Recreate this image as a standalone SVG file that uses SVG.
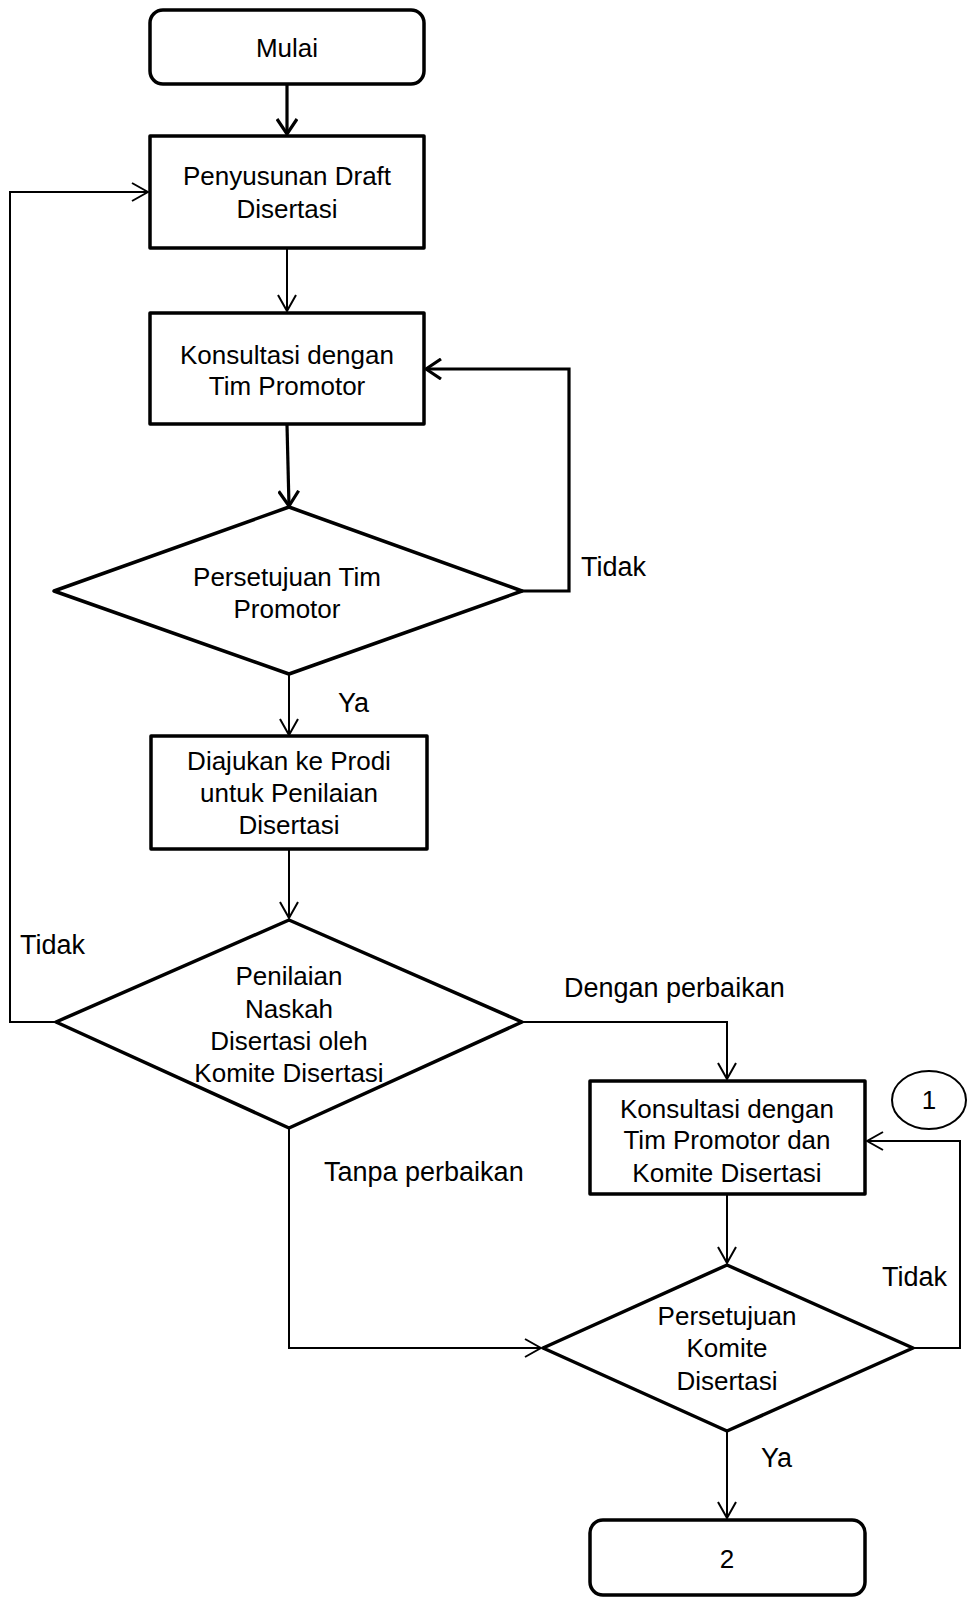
<svg xmlns="http://www.w3.org/2000/svg" width="970" height="1598" viewBox="0 0 970 1598">
<defs>
<style>
.n{fill:#fff;stroke:#000;stroke-width:3.5;stroke-linejoin:round}
.t{font-family:"Liberation Sans",Arial,sans-serif;font-size:26px;fill:#000;text-anchor:middle}
.l{font-family:"Liberation Sans",Arial,sans-serif;font-size:27px;fill:#000}
.c{fill:none;stroke:#000;stroke-width:2;marker-end:url(#a)}
.ck{fill:none;stroke:#000;stroke-width:3.2;marker-end:url(#ak)}
</style>
<marker id="a" markerUnits="userSpaceOnUse" viewBox="0 0 18 20" markerWidth="18" markerHeight="20" refX="17" refY="10" orient="auto">
<path d="M1,1 L17,10 L1,19" fill="none" stroke="#000" stroke-width="2"/>
</marker>
<marker id="ak" markerUnits="userSpaceOnUse" viewBox="0 0 18 22" markerWidth="18" markerHeight="22" refX="16" refY="11" orient="auto">
<path d="M1,1 L16,11 L1,21" fill="none" stroke="#000" stroke-width="3.2"/>
</marker>
</defs>
<rect width="970" height="1598" fill="#fff"/>
<g id="connectors">
<path class="ck" d="M287,85 L287,134"/>
<path class="c" d="M287,249 L287,311"/>
<path class="ck" d="M287,425 L289,506"/>
<path class="ck" d="M522,591 L569,591 L569,369 L426,369"/>
<path class="c" d="M289,674 L289,735"/>
<path class="c" d="M289,850 L289,918"/>
<path class="c" d="M56,1022 L10,1022 L10,192 L148,192"/>
<path class="c" d="M522,1022 L727,1022 L727,1079"/>
<path class="c" d="M289,1129 L289,1348 L541,1348"/>
<path class="c" d="M727,1195 L727,1263"/>
<path class="c" d="M913,1348 L960,1348 L960,1141 L867,1141"/>
<path class="c" d="M727,1432 L727,1518"/>
</g>
<g id="mulai"><rect class="n" x="150" y="10" width="274" height="74" rx="13"/><text class="t" x="287" y="57">Mulai</text></g>
<g id="penyusunan"><rect class="n" x="150" y="136" width="274" height="112"/><text class="t" x="287" y="185">Penyusunan Draft</text><text class="t" x="287" y="218">Disertasi</text></g>
<g id="konsultasi1"><rect class="n" x="150" y="313" width="274" height="111"/><text class="t" x="287" y="364">Konsultasi dengan</text><text class="t" x="287" y="395">Tim Promotor</text></g>
<g id="persetujuan1"><polygon class="n" points="289,507 522,591 289,674 54,591"/><text class="t" x="287" y="586">Persetujuan Tim</text><text class="t" x="287" y="618">Promotor</text></g>
<g id="diajukan"><rect class="n" x="151" y="736" width="276" height="113"/><text class="t" x="289" y="770">Diajukan ke Prodi</text><text class="t" x="289" y="802">untuk Penilaian</text><text class="t" x="289" y="834">Disertasi</text></g>
<g id="penilaian"><polygon class="n" points="289,920 522,1022 289,1128 56,1022"/><text class="t" x="289" y="985">Penilaian</text><text class="t" x="289" y="1018">Naskah</text><text class="t" x="289" y="1050">Disertasi oleh</text><text class="t" x="289" y="1082">Komite Disertasi</text></g>
<g id="konsultasi2"><rect class="n" x="590" y="1081" width="275" height="113"/><text class="t" x="727" y="1118">Konsultasi dengan</text><text class="t" x="727" y="1149">Tim Promotor dan</text><text class="t" x="727" y="1182">Komite Disertasi</text></g>
<g id="konektor1"><ellipse cx="929" cy="1100" rx="37" ry="29" fill="#fff" stroke="#000" stroke-width="2"/><text class="t" x="929" y="1109">1</text></g>
<g id="persetujuan2"><polygon class="n" points="727,1265 913,1348 727,1431 543,1348"/><text class="t" x="727" y="1325">Persetujuan</text><text class="t" x="727" y="1357">Komite</text><text class="t" x="727" y="1390">Disertasi</text></g>
<g id="konektor2"><rect class="n" x="590" y="1520" width="275" height="75" rx="13"/><text class="t" x="727" y="1568">2</text></g>
<g id="labels">
<text class="l" x="581" y="576">Tidak</text>
<text class="l" x="338" y="712">Ya</text>
<text class="l" x="20" y="954">Tidak</text>
<text class="l" x="564" y="997">Dengan perbaikan</text>
<text class="l" x="324" y="1181">Tanpa perbaikan</text>
<text class="l" x="882" y="1286">Tidak</text>
<text class="l" x="761" y="1467">Ya</text>
</g>
</svg>
